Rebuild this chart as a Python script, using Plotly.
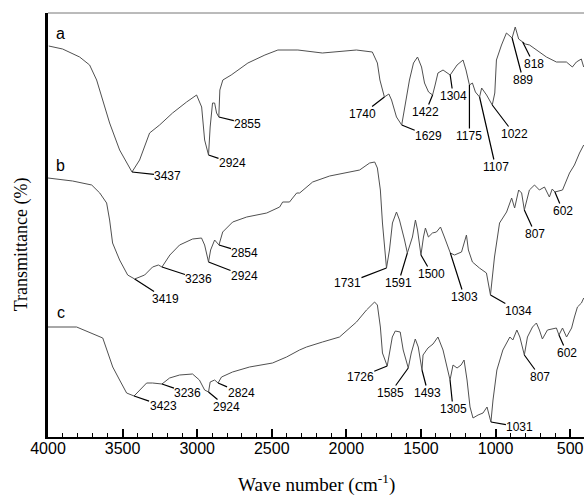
import numpy as np
import plotly.graph_objects as go

# ---------------- data (wavenumber cm-1, transmittance a.u.) ----------------
a_wn = [3995,3902,3788,3721,3674,3634,3587,3520,3460,3437,3386,3319,3252,3165,3071,3004,2970,2950,2924,2913,
        2897,2883,2870,2855,2848,2828,2772,2660,2546,2459,2325,2161,1933,1826,1792,1775,1745,1715,1697,1664,
        1629,1610,1577,1550,1523,1496,1476,1449,1422,1405,1386,1352,1304,1258,1218,1198,1175,1155,1135,1107,
        1093,1060,1022,1005,994,960,927,889,868,845,818,800,772,725,659,592,525,485,458,425,409]
a_T = [391,388,380,372,357,337,314,287,270,265,277,304,312,324,335,342,330,297,282,310,
       334,334,324,320,347,357,362,374,382,387,387,384,387,385,374,357,340,343,337,320,
       312,327,357,374,380,370,354,345,342,352,364,367,362,372,377,367,352,354,345,340,
       349,342,332,344,377,392,404,399,410,398,395,393,392,387,380,375,375,370,375,378,370]

b_wn = [4000,3835,3707,3653,3607,3587,3567,3520,3466,3419,3352,3299,3260,3236,3183,3118,3031,2971,2950,2924,
        2910,2883,2854,2829,2762,2668,2534,2447,2427,2381,2360,2333,2313,2226,2112,1998,1911,1844,1810,1792,
        1772,1758,1745,1731,1711,1691,1664,1644,1610,1591,1557,1537,1523,1500,1483,1470,1450,1423,1396,1369,
        1343,1303,1275,1228,1195,1182,1155,1108,1061,1034,1007,973,926,892,872,845,825,807,773,739,
        706,672,639,620,602,551,504,471,437,409]
b_T = [259,256,252,244,234,217,194,177,162,158,162,170,172,170,182,192,198,199,192,175,
       187,197,192,205,215,220,224,230,235,235,239,244,244,255,261,264,267,274,275,269,
       247,214,190,169,187,214,225,217,197,184,200,217,207,182,200,209,200,204,205,210,
       200,184,182,185,202,187,175,169,164,142,180,214,225,239,229,247,244,227,247,252,
       247,250,240,248,245,247,264,272,284,292]

c_wn = [4000,3808,3633,3607,3566,3520,3473,3423,3386,3339,3299,3236,3185,3118,3031,2985,2950,2924,2913,2883,
        2860,2837,2763,2649,2495,2401,2314,2267,2160,2046,1932,1865,1811,1792,1772,1758,1726,1719,1692,1672,
        1639,1619,1585,1565,1538,1518,1493,1486,1453,1419,1386,1352,1326,1305,1285,1258,1231,1211,1191,1171,
        1151,1117,1084,1057,1031,1017,991,951,904,884,857,837,807,786,752,726,706,686,652,619,
        592,575,551,524,490,471,451,424,409]
c_T = [110,110,99,87,70,57,44,41,47,54,54,53,59,62,63,57,47,45,55,57,
       54,60,65,70,74,80,87,90,95,100,115,127,135,132,110,84,71,77,100,106,
       105,87,69,84,98,90,67,82,89,93,100,87,70,57,72,69,72,77,57,30,
       19,22,24,30,15,37,67,87,100,97,107,100,82,100,110,114,107,98,107,108,
       109,102,109,100,109,120,130,134,139]

# peak labels and the wavenumber where each label points
a_labels = ["3437","2924","2855","1740","1629","1422","1304","1175","1107","1022","889","818"]
a_at = [3437,2924,2855,1745,1629,1422,1304,1175,1107,1022,889,818]
b_labels = ["3419","3236","2924","2854","1731","1591","1500","1303","1034","807","602"]
b_at = [3419,3236,2924,2854,1731,1591,1500,1303,1034,807,602]
c_labels = ["3423","3236","2924","2824","1726","1585","1493","1305","1031","807","602"]
c_at = [3423,3236,2924,2860,1726,1585,1493,1305,1031,807,575]

tick_vals = [4000,3500,3000,2500,2000,1500,1000,500]
tick_text = ["4000","3500","3000","2500","2000","1500","1000","500"]

# ---------------- layout helpers (pixel offsets of label text) ----------------
a_off = [(36,4),(24,8),(29,7),(-22,17),(27,11),(-7,17),(3,21),(0,51),(16,70),(22,29),(11,42),(11,22)]
b_off = [(31,20),(37,12),(36,14),(26,8),(-39,15),(-9,30),(11,19),(14,44),(28,16),(11,24),(8,19)]
c_off = [(29,10),(26,9),(18,15),(23,10),(-27,11),(-18,25),(6,23),(3,29),(29,5),(16,22),(8,18)]

SANS = "Liberation Sans, Arial, sans-serif"
SERIF = "Liberation Serif, Times New Roman, serif"

fig = go.Figure()
for wn, T in [(a_wn, a_T), (b_wn, b_T), (c_wn, c_T)]:
    fig.add_trace(go.Scatter(x=wn, y=T, mode="lines",
                             line=dict(color="#505050", width=1),
                             showlegend=False, hoverinfo="skip"))

annotations = []
for wn, T, labels, at, offs in [(a_wn, a_T, a_labels, a_at, a_off),
                                (b_wn, b_T, b_labels, b_at, b_off),
                                (c_wn, c_T, c_labels, c_at, c_off)]:
    xs = np.array(wn[::-1], dtype=float)
    ys = np.array(T[::-1], dtype=float)
    for lab, w, (ax, ay) in zip(labels, at, offs):
        yv = float(np.interp(w, xs, ys))
        annotations.append(dict(x=w, y=yv, xref="x", yref="y", text=lab,
                                showarrow=True, arrowhead=0, arrowwidth=1.2,
                                arrowcolor="black", ax=ax, ay=ay, standoff=0,
                                borderpad=0,
                                font=dict(family=SANS, size=12, color="black")))

# series letters
for letter, yv in [("a", 404), ("b", 272), ("c", 125)]:
    annotations.append(dict(x=3915, y=yv, xref="x", yref="y", text=letter,
                            showarrow=False, xanchor="center", yanchor="middle",
                            font=dict(family=SANS, size=16, color="black")))

# axis titles
annotations.append(dict(x=-0.05, y=0.455, xref="paper", yref="paper",
                        xanchor="center", yanchor="middle",
                        text="Transmittance (%)", textangle=-90, showarrow=False,
                        font=dict(family=SERIF, size=18, color="black")))
annotations.append(dict(x=0.5, y=-0.11, xref="paper", yref="paper",
                        xanchor="center", yanchor="middle",
                        text="Wave number (cm<sup>-1</sup>)", showarrow=False,
                        font=dict(family=SERIF, size=19, color="black")))

fig.update_layout(
    width=584, height=496,
    margin=dict(l=48, r=0, t=13, b=59),
    plot_bgcolor="white", paper_bgcolor="white",
    annotations=annotations,
    shapes=[dict(type="line", xref="paper", yref="paper", x0=0, x1=1, y0=1, y1=1,
                 line=dict(color="#777777", width=1))],
)
fig.update_xaxes(range=[4000, 407], autorange=False,
                 tickmode="array", tickvals=tick_vals, ticktext=tick_text,
                 ticks="inside", ticklen=8, tickwidth=1.5, tickcolor="black",
                 minor=dict(dtick=100, ticks="inside", ticklen=4, tickwidth=1.2, tickcolor="black"),
                 showline=True, linewidth=2, linecolor="black",
                 showgrid=False, zeroline=False,
                 ticklabelstandoff=-4,
                 tickfont=dict(family=SANS, size=16, color="black"))
fig.update_yaxes(range=[0, 424], autorange=False,
                 showticklabels=False, ticks="",
                 showline=True, linewidth=2.5, linecolor="black",
                 showgrid=False, zeroline=False)

fig.write_html("out.html")
